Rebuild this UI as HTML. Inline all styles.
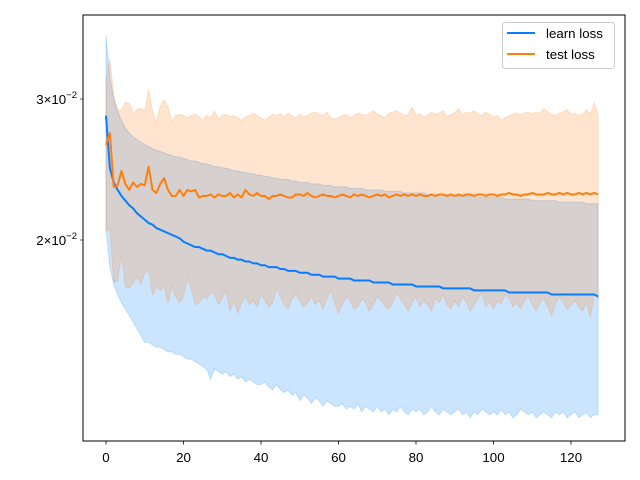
<!DOCTYPE html>
<html><head><meta charset="utf-8"><style>
html,body{margin:0;padding:0;background:#fff;}
svg{display:block;font-family:"Liberation Sans","DejaVu Sans",sans-serif;}
</style></head><body>
<svg id="chart" width="640" height="480" viewBox="0 0 640 480">
<rect x="0" y="0" width="640" height="480" fill="#fff"/>
<g id="plot"></g>
<rect x="83" y="15" width="542" height="426" fill="none" stroke="#000" stroke-width="1"/>
<g id="xticks"></g>
<g id="yticks"></g>
<g>
<rect x="502.5" y="22.5" width="112" height="46" rx="3" fill="#fff" fill-opacity="0.8" stroke="#ccc"/>
<line x1="507" y1="33" x2="535" y2="33" stroke="#0a7cff" stroke-width="2"/>
<text x="546" y="38" font-size="13.3" fill="#000">learn loss</text>
<line x1="507" y1="54" x2="535" y2="54" stroke="#ff7f0e" stroke-width="2"/>
<text x="546" y="59" font-size="13.3" fill="#000">test loss</text>
</g>
</svg>
<script>
const xTicks = [0,20,40,60,80,100,120];
const yTicks = [0.02,0.03];
const yTickMant = ["2","3"];
const learnMean = [2.86,2.46,2.36,2.31,2.27,2.24,2.21,2.19,2.16,2.14,2.12,2.10,2.09,2.07,2.06,2.05,2.04,2.03,2.02,2.01,
1.99,1.98,1.97,1.96,1.96,1.95,1.94,1.94,1.93,1.92,1.92,1.91,1.90,1.90,1.89,1.89,1.88,1.88,1.87,1.87,
1.86,1.86,1.85,1.85,1.85,1.84,1.84,1.83,1.83,1.83,1.82,1.82,1.82,1.81,1.81,1.81,1.80,1.80,1.80,1.80,
1.79,1.79,1.79,1.79,1.78,1.78,1.78,1.78,1.78,1.77,1.77,1.77,1.77,1.77,1.76,1.76,1.76,1.76,1.76,1.76,
1.75,1.75,1.75,1.75,1.75,1.75,1.75,1.74,1.74,1.74,1.74,1.74,1.74,1.74,1.74,1.73,1.73,1.73,1.73,1.73,
1.73,1.73,1.73,1.73,1.72,1.72,1.72,1.72,1.72,1.72,1.72,1.72,1.72,1.72,1.72,1.71,1.71,1.71,1.71,1.71,
1.71,1.71,1.71,1.71,1.71,1.71,1.71,1.70];
const learnUpper = [3.60,3.20,3.00,2.90,2.82,2.76,2.72,2.69,2.67,2.65,2.63,2.62,2.60,2.59,2.58,2.57,2.56,2.55,2.54,2.54,
2.53,2.52,2.51,2.51,2.50,2.49,2.49,2.48,2.47,2.47,2.46,2.46,2.45,2.44,2.44,2.43,2.43,2.42,2.42,2.41,
2.41,2.40,2.40,2.39,2.39,2.38,2.38,2.38,2.37,2.37,2.36,2.36,2.36,2.35,2.35,2.35,2.34,2.34,2.34,2.33,
2.33,2.33,2.33,2.32,2.32,2.32,2.32,2.31,2.31,2.31,2.31,2.31,2.30,2.30,2.30,2.30,2.30,2.29,2.29,2.29,
2.29,2.29,2.29,2.28,2.28,2.28,2.28,2.28,2.28,2.27,2.27,2.27,2.27,2.27,2.27,2.27,2.26,2.26,2.26,2.26,
2.26,2.26,2.26,2.25,2.25,2.25,2.25,2.25,2.25,2.25,2.24,2.24,2.24,2.24,2.24,2.24,2.24,2.23,2.23,2.23,
2.23,2.23,2.23,2.23,2.22,2.22,2.22,2.22];
const learnLower = [2.07,1.85,1.76,1.71,1.67,1.64,1.61,1.58,1.55,1.52,1.49,1.49,1.48,1.47,1.47,1.46,1.45,1.45,1.44,1.44,
1.43,1.42,1.42,1.41,1.40,1.39,1.38,1.34,1.38,1.37,1.36,1.37,1.35,1.36,1.34,1.35,1.33,1.34,1.33,1.32,
1.32,1.33,1.31,1.30,1.32,1.30,1.29,1.30,1.28,1.29,1.26,1.28,1.27,1.25,1.27,1.26,1.24,1.26,1.25,1.24,
1.24,1.25,1.23,1.24,1.23,1.25,1.22,1.24,1.23,1.22,1.24,1.22,1.23,1.21,1.23,1.22,1.24,1.22,1.21,1.23,
1.22,1.23,1.21,1.22,1.24,1.22,1.21,1.23,1.22,1.21,1.22,1.23,1.21,1.22,1.20,1.22,1.21,1.23,1.22,1.21,
1.22,1.21,1.23,1.21,1.22,1.20,1.21,1.23,1.22,1.21,1.22,1.20,1.21,1.22,1.21,1.20,1.22,1.21,1.22,1.20,
1.21,1.22,1.20,1.21,1.22,1.20,1.21,1.21];
const testMean = [2.63,2.72,2.33,2.34,2.44,2.35,2.31,2.36,2.33,2.35,2.34,2.47,2.31,2.29,2.35,2.39,2.31,2.27,2.27,2.31,
2.27,2.31,2.30,2.31,2.26,2.27,2.27,2.28,2.26,2.28,2.27,2.27,2.29,2.26,2.28,2.26,2.31,2.28,2.27,2.29,
2.27,2.27,2.25,2.27,2.27,2.28,2.27,2.26,2.26,2.28,2.28,2.27,2.29,2.27,2.26,2.27,2.28,2.27,2.27,2.26,
2.27,2.28,2.27,2.26,2.28,2.27,2.28,2.27,2.26,2.27,2.28,2.27,2.28,2.26,2.27,2.28,2.27,2.28,2.27,2.28,
2.27,2.28,2.27,2.27,2.28,2.27,2.28,2.28,2.27,2.28,2.27,2.28,2.27,2.28,2.28,2.27,2.28,2.28,2.27,2.28,
2.28,2.27,2.28,2.28,2.29,2.28,2.28,2.27,2.28,2.28,2.29,2.28,2.28,2.28,2.29,2.28,2.28,2.29,2.28,2.29,
2.28,2.28,2.29,2.28,2.29,2.28,2.29,2.28];
const testUpper = [3.14,3.37,3.03,2.90,2.91,2.97,2.96,2.88,2.91,2.92,2.90,3.08,2.90,2.80,2.94,2.99,2.93,2.81,2.86,2.87,
2.86,2.84,2.86,2.87,2.85,2.82,2.86,2.84,2.90,2.83,2.86,2.87,2.85,2.86,2.84,2.82,2.85,2.86,2.88,2.86,
2.84,2.82,2.85,2.87,2.86,2.88,2.85,2.88,2.86,2.84,2.87,2.85,2.86,2.88,2.89,2.87,2.86,2.89,2.84,2.83,
2.84,2.86,2.87,2.84,2.86,2.88,2.87,2.86,2.88,2.90,2.87,2.86,2.84,2.88,2.89,2.90,2.88,2.86,2.87,2.93,
2.86,2.88,2.85,2.86,2.89,2.87,2.88,2.90,2.85,2.87,2.88,2.92,2.86,2.89,2.88,2.90,2.87,2.86,2.89,2.87,
2.85,2.86,2.82,2.84,2.86,2.87,2.88,2.87,2.88,2.89,2.87,2.89,2.88,2.92,2.89,2.87,2.86,2.88,2.89,2.91,
2.87,2.88,2.86,2.87,2.91,2.87,2.97,2.86];
const testLower = [2.05,2.07,1.77,1.78,1.92,1.75,1.74,1.77,1.80,1.76,1.82,1.83,1.71,1.75,1.73,1.75,1.67,1.75,1.70,1.67,
1.70,1.79,1.74,1.66,1.67,1.70,1.69,1.72,1.71,1.66,1.69,1.73,1.63,1.68,1.62,1.67,1.70,1.66,1.68,1.65,
1.71,1.68,1.65,1.67,1.74,1.70,1.66,1.64,1.69,1.71,1.68,1.65,1.67,1.70,1.66,1.68,1.64,1.69,1.73,1.67,
1.62,1.66,1.70,1.68,1.64,1.65,1.69,1.67,1.63,1.66,1.70,1.68,1.65,1.64,1.67,1.72,1.69,1.66,1.63,1.67,
1.70,1.65,1.68,1.66,1.63,1.69,1.67,1.71,1.66,1.64,1.68,1.65,1.70,1.67,1.63,1.66,1.69,1.72,1.65,1.67,
1.64,1.68,1.66,1.71,1.69,1.65,1.67,1.64,1.68,1.70,1.66,1.63,1.67,1.69,1.65,1.61,1.66,1.70,1.67,1.64,
1.66,1.68,1.65,1.63,1.67,1.60,1.71,1.69];
const SCALE = 0.01;

const NS = "http://www.w3.org/2000/svg";
function xPx(i){ return 106 + i * (465 / 120); }
function yPx(v){ return 99 - (Math.log10(v) - Math.log10(0.03)) * (141 / (Math.log10(0.03) - Math.log10(0.02))); }
function mk(tag, attrs, parent){ const e = document.createElementNS(NS, tag); for (const k in attrs) e.setAttribute(k, attrs[k]); parent.appendChild(e); return e; }
const plot = document.getElementById('plot');

function bandPath(up, lo){
  let d = '';
  up.forEach((v,i)=>{ d += (i? 'L':'M') + xPx(i).toFixed(2) + ',' + yPx(v*SCALE).toFixed(2); });
  for (let i = lo.length-1; i >= 0; i--) d += 'L' + xPx(i).toFixed(2) + ',' + yPx(lo[i]*SCALE).toFixed(2);
  return d + 'Z';
}
function linePath(arr){
  return arr.map((v,i)=>(i?'L':'M') + xPx(i).toFixed(2) + ',' + yPx(v*SCALE).toFixed(2)).join('');
}
const lb = mk('path', {d: bandPath(learnUpper, learnLower), fill:'#007fff', 'fill-opacity':0.2, stroke:'#007fff', 'stroke-opacity':0.2, 'stroke-width':1}, plot);


const tb = mk('path', {d: bandPath(testUpper, testLower), fill:'#ff7f0e', 'fill-opacity':0.2, stroke:'#ff7f0e', 'stroke-opacity':0.2, 'stroke-width':1}, plot);


const ll = mk('path', {d: linePath(learnMean), fill:'none', stroke:'#0a7cff', 'stroke-width':2, 'stroke-linejoin':'round'}, plot);


const tl = mk('path', {d: linePath(testMean), fill:'none', stroke:'#ff7f0e', 'stroke-width':2, 'stroke-linejoin':'round'}, plot);



const xg = document.getElementById('xticks');
xTicks.forEach(t=>{
  const x = xPx(t);
  const tk = mk('line', {x1:x, y1:441, x2:x, y2:444.5, stroke:'#000', 'stroke-width':0.8}, xg);
  
  
  const lab = mk('text', {x:x, y:462, 'font-size':13.3, 'text-anchor':'middle', fill:'#000'}, xg);
  lab.textContent = String(t);
  
  
});
const yg = document.getElementById('yticks');
yTicks.forEach((t,i)=>{
  const y = yPx(t);
  const tk = mk('line', {x1:80, y1:y, x2:83, y2:y, stroke:'#000', 'stroke-width':0.6}, yg);
  
  
  const lab = mk('text', {x:77, y:y+5, 'font-size':13.3, 'text-anchor':'end', fill:'#000'}, yg);
  
  
  const a = mk('tspan', {}, lab); a.textContent = yTickMant[i] + '\u00d710';
  const b = mk('tspan', {dy:-6, 'font-size':9.5}, lab); b.textContent = '\u22122';
});
</script>
</body></html>
